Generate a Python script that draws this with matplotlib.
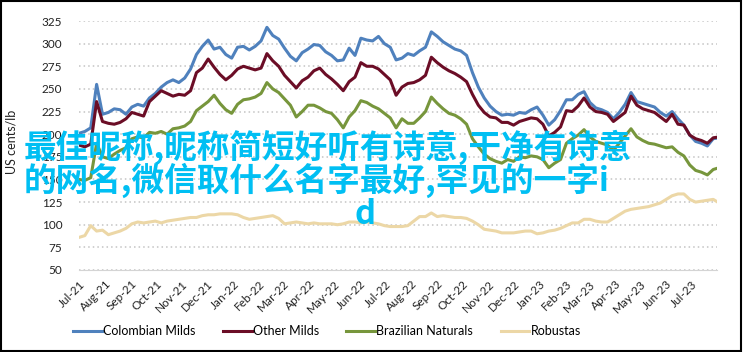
import matplotlib
matplotlib.use('Agg')
import matplotlib.pyplot as plt
import matplotlib.dates as mdates
import pandas as pd

# weekly readings, first week of Jul 2021 to start of Aug 2023
dates = pd.date_range('2021-07-01', periods=110, freq='7D')

colombian_milds = [
    201, 203, 207, 255, 222, 224, 228, 227, 222, 230, 233, 231, 240, 245, 252, 257, 260, 257, 262, 272,
    288, 297, 304, 294, 296, 288, 284, 296, 297, 293, 297, 303, 318, 309, 305, 295, 286, 281, 290, 294,
    299, 298, 291, 287, 281, 282, 295, 287, 306, 304, 303, 308, 300, 296, 282, 284, 289, 287, 292, 296,
    313, 308, 302, 298, 294, 292, 287, 268, 252, 240, 231, 225, 221, 222, 221, 224, 223, 227, 230, 221,
    210, 216, 226, 238, 238, 244, 247, 235, 229, 227, 224, 217, 224, 233, 246, 236, 234, 232, 230, 224,
    220, 225, 217, 210, 199, 192, 190, 187, 195, 196]
other_milds = [
    188, 186, 189, 236, 214, 212, 211, 213, 217, 224, 222, 220, 236, 242, 248, 245, 242, 244, 243, 248,
    268, 273, 283, 274, 266, 260, 265, 272, 275, 273, 271, 273, 289, 281, 275, 265, 258, 251, 259, 263,
    270, 273, 266, 261, 255, 248, 258, 263, 279, 275, 275, 272, 266, 260, 243, 252, 256, 257, 260, 265,
    285, 279, 274, 270, 267, 263, 258, 244, 232, 224, 219, 218, 213, 213, 210, 214, 216, 218, 217, 211,
    198, 202, 208, 226, 225, 231, 240, 230, 225, 224, 222, 214, 219, 224, 242, 232, 228, 226, 224, 219,
    214, 222, 211, 210, 199, 195, 193, 190, 196, 197]
brazilian_naturals = [
    150, 149, 152, 190, 175, 173, 178, 182, 185, 195, 197, 196, 202, 201, 203, 200, 206, 207, 209, 214,
    226, 231, 236, 243, 234, 227, 223, 233, 238, 239, 241, 245, 257, 250, 246, 239, 232, 219, 225, 232,
    232, 229, 225, 223, 216, 207, 219, 226, 237, 235, 231, 228, 223, 218, 207, 217, 212, 212, 218, 225,
    241, 234, 228, 223, 221, 217, 211, 195, 186, 178, 173, 170, 168, 172, 170, 175, 174, 176, 175, 172,
    163, 168, 172, 190, 195, 199, 205, 197, 192, 190, 188, 182, 190, 198, 206, 197, 193, 190, 189, 187,
    185, 186, 180, 176, 166, 160, 158, 155, 161, 163]
robustas = [
    86, 88, 99, 93, 94, 89, 91, 93, 96, 101, 103, 102, 103, 104, 102, 104, 105, 106, 107, 108,
    108, 110, 111, 111, 112, 112, 112, 111, 108, 106, 107, 108, 109, 110, 107, 101, 102, 103, 102, 101,
    102, 101, 101, 101, 100, 101, 103, 103, 102, 103, 102, 101, 99, 98, 98, 98, 99, 104, 109, 109,
    113, 109, 110, 109, 108, 108, 107, 104, 100, 95, 94, 93, 91, 91, 91, 92, 93, 93, 90, 91,
    93, 94, 96, 99, 102, 102, 106, 106, 104, 103, 103, 107, 111, 115, 117, 118, 119, 120, 122, 124,
    128, 132, 134, 134, 128, 125, 126, 127, 128, 124]

series_names = ['Colombian Milds', 'Other Milds', 'Brazilian Naturals', 'Robustas']
series_values = [colombian_milds, other_milds, brazilian_naturals, robustas]
colors = ['#4f81bd', '#6b0d26', '#77963c', '#ecd7a6']

watermark_line1 = '最佳昵称,昵称简短好听有诗意,干净有诗意'
watermark_line2 = '的网名,微信取什么名字最好,罕见的一字i'
watermark_line3 = 'd'

plt.rcParams['font.family'] = ['Lato', 'DejaVu Sans']

fig = plt.figure(figsize=(7.43, 3.52), dpi=100)
ax = fig.add_axes([79 / 743, 1 - 270 / 352, (717 - 79) / 743, (270 - 21) / 352])

for name, vals, c in zip(series_names, series_values, colors):
    ax.plot(dates, vals, color=c, linewidth=2.2, label=name)

ax.set_ylim(50, 325)
ax.set_yticks(range(50, 326, 25))
ax.set_xlim(pd.Timestamp('2021-07-01'), pd.Timestamp('2023-07-31 12:00'))
ax.xaxis.set_major_locator(mdates.MonthLocator())
ax.xaxis.set_major_formatter(mdates.DateFormatter('%b-%y'))
for lbl in ax.get_xticklabels():
    lbl.set_rotation(45)
    lbl.set_ha('right')
    lbl.set_rotation_mode('anchor')
ax.tick_params(axis='both', length=0, labelsize=8.5, colors='#222222')
ax.tick_params(axis='y', pad=12)
ax.tick_params(axis='x', pad=6)

ax.grid(axis='y', linestyle=(0, (1, 2)), color='#c4c4c4', linewidth=1.1)
ax.grid(axis='x', visible=False)
for s in ['top', 'right', 'left']:
    ax.spines[s].set_visible(False)
ax.spines['bottom'].set_color('#d4d4d4')
ax.set_axisbelow(True)

fig.text(12 / 743, 1 - 142 / 352, 'US cents/lb', rotation=90, ha='center', va='center',
         fontsize=9, color='#222222')

fig.legend(loc='center', bbox_to_anchor=(0.44, 1 - 331 / 352), ncol=4, frameon=False,
           fontsize=9, handlelength=2.3, columnspacing=2.2, handletextpad=0.1)

wm = dict(color='#00bff3', fontsize=23.5, family=['Noto Sans CJK SC', 'DejaVu Sans'],
          fontweight='bold', va='center', ha='left')
fig.text(24 / 743, 1 - 147 / 352, watermark_line1, **wm)
fig.text(24 / 743, 1 - 180 / 352, watermark_line2, **wm)
fig.text(355 / 743, 1 - 214 / 352, watermark_line3, **wm)

fig.patches.append(plt.Rectangle((0.001, 0.002), 0.996, 0.995, transform=fig.transFigure,
                                 fill=False, edgecolor='black', linewidth=1.5))

plt.savefig('out.png', dpi=100)
